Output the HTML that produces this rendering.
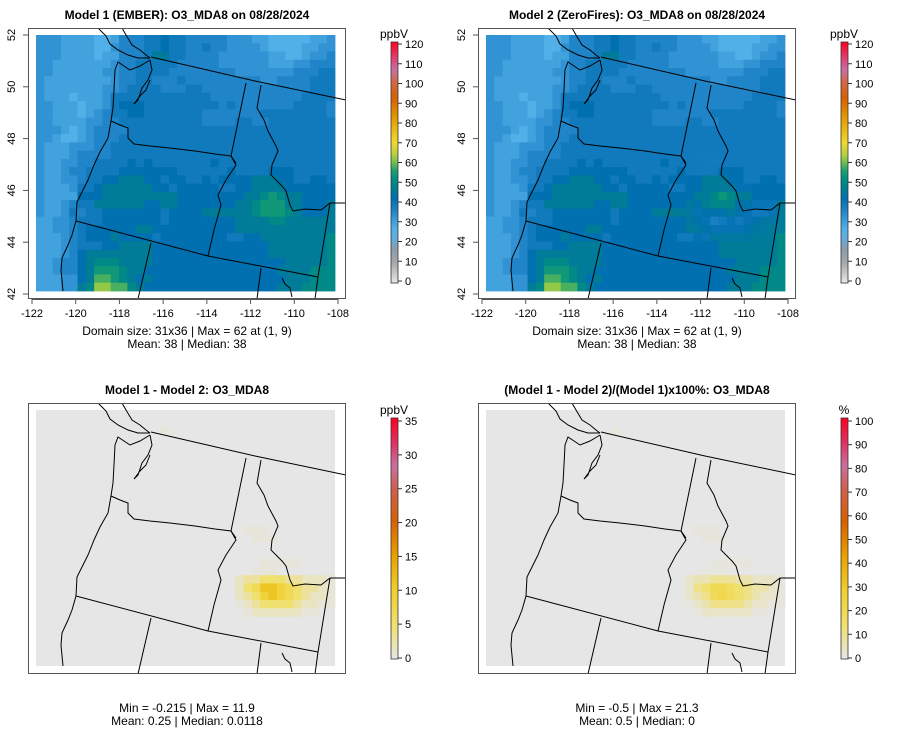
<!DOCTYPE html>
<html><head><meta charset="utf-8"><style>
html,body{margin:0;padding:0;background:#fff;}
svg{display:block;font-family:"Liberation Sans",sans-serif;}
</style></head><body>
<svg id="fig" width="900" height="752" viewBox="0 0 900 752" xmlns="http://www.w3.org/2000/svg">
<defs>
<linearGradient id="gO3" x1="0" y1="1" x2="0" y2="0"></linearGradient>
<linearGradient id="gDiff" x1="0" y1="1" x2="0" y2="0"></linearGradient>
<clipPath id="clipBox"><rect x="28" y="28" width="318" height="271"/></clipPath>
</defs>
</svg>
<script>
// ---- data ----
const lonTicks = [-122,-120,-118,-116,-114,-112,-110,-108];
const latTicks = [42,44,46,48,50,52];
const o3Ticks = [0,10,20,30,40,50,60,70,80,90,100,110,120];
const diffTicks = [0,5,10,15,20,25,30,35];
const pctTicks = [0,10,20,30,40,50,60,70,80,90,100];
const o3Codes = "abcdefghijkl";
const o3Levels = [24,27,30,33,36,39,42,46,50,54,58,62];
const m1Rows = [
"dddccccbbceeeffgffeeeeedddccbbbbbccd",
"dddccccbbdeeeffgffeefeeddddcbbbbccdd",
"dddccccbcceeefhhffeeeeddddddccbbcdde",
"ddcccccccdeefffffeeeeeddddddcccddeee",
"ddccccccddeeffffeeeeeeeedddddddeeeff",
"dccccccccdeeffeeefeeeeeeeeeddeeeefff",
"dcccccccddeffffeeeffeeeeeeeeeeeeefff",
"dcccbcccdffffffffffffeeeeeeeeeeeffff",
"ddcccbccdfgggfffffffffefeeeeeeeffffe",
"ddcccbcdeffggfffffffeeeeeeeffffffffe",
"ddccccddeeffffffffffeeeeffeeffffffff",
"dddcbcdeeeefffffffffffffffffffffffff",
"ddcbbcdeeeffffffffffffffffffffffffff",
"dcccdddeefffffffffffffffffffffffffff",
"dcccdeeeefffffffffffffffffffffffffff",
"dccddeeffffgfgfffffffgffffffffffffff",
"dccdeeffffgggggggffffffgffffgggfffff",
"dccddeffgghhhggfggffgfgggghhhggffggf",
"dcccdffghhhhhhggfgggggffgghhhhgggggg",
"dccccggghhhhhhhhhgggggggghhijihhgggg",
"dccdeffhhhhhhgghhggggggghhijjjhhgggh",
"dccdfeffgggggggfgggghhhhhhijjjihgggh",
"ccddefffgggggggfgggggggghhhhiihhhhhh",
"ccddefgggggghhgggggggggghhhhhhhhhhhh",
"cccdefggghggggfggggggggffgghhhhhhhhi",
"cccdefffgghhhhgggggggggggggghhhhhhhi",
"cccdeghhhhhhhhgggggggggggggghhhhhhhi",
"ccdeeghiiihhhhgggggggggggggggghhhhhi",
"ccdeeghjjjihhgggggggggggggggghhhhiii",
"cccddghkkjihghgggggggggggggggghhhiii",
"cccddhillkkihgggggggggggggggghhhiiii"
];
const diffLevels = [0,0.5,1.5,3,5,7,9,11,12];
const diffRows = {
 2:  "000000000000000100000000000000000000",
 14: "000000000000000000000000011100000000",
 15: "000000000000000000000000001110000000",
 18: "000000000000000000000000000111110000",
 19: "000000000000000000000000001110000000",
 20: "000000000000000000000000233444332221",
 21: "000000000000000000000000245776543321",
 22: "000000000000000000000000234676543221",
 23: "000000000000000000000000123444432211",
 24: "000000000000000000000000012222221100"
};
const o3Stops = [[0,"#e8e8e8"],[10,"#a8a8a8"],[17,"#8c9cac"],[22,"#64acdc"],[27,"#52b0e8"],[32,"#3898d8"],[37,"#1a80c4"],[42,"#0070b0"],[47,"#007f92"],[52,"#009080"],[56,"#20a070"],[60,"#70c050"],[64,"#b8d040"],[70,"#f0d830"],[78,"#e8b010"],[85,"#e08a00"],[92,"#d86000"],[100,"#d06848"],[106,"#c870a0"],[112,"#e04070"],[120,"#ff0020"]];
const diffStops = [[0,"#e6e6e6"],[0.14,"#f0e070"],[0.28,"#f0d030"],[0.43,"#e8a000"],[0.57,"#d86000"],[0.71,"#d06050"],[0.8,"#c870a0"],[0.9,"#e03060"],[1,"#ff0020"]];

// ---- helpers ----
const NS = "http://www.w3.org/2000/svg";
const svg = document.getElementById("fig");
function mk(tag, attrs, parent){const e=document.createElementNS(NS,tag);for(const k in attrs)e.setAttribute(k,attrs[k]);(parent||svg).appendChild(e);return e;}
function hex(c){return [parseInt(c.slice(1,3),16),parseInt(c.slice(3,5),16),parseInt(c.slice(5,7),16)];}
function interp(stops,v){
 if(v<=stops[0][0])return stops[0][1];
 for(let i=1;i<stops.length;i++){if(v<=stops[i][0]){const a=stops[i-1],b=stops[i];const t=(v-a[0])/(b[0]-a[0]);const ca=hex(a[1]),cb=hex(b[1]);return "rgb("+ca.map((x,j)=>Math.round(x+(cb[j]-x)*t)).join(",")+")";}}
 return stops[stops.length-1][1];
}
const NC=36, NR=31, MX0=36, MX1=335, MY0=35, MY1=291;
const cw=(MX1-MX0)/NC, ch=(MY1-MY0)/NR;
function colX(c){return MX0+c*cw;}
function rowY(r){return MY0+r*ch;}
function lonX(l){return 32+(l+122)*(338-32)/14;}
function latY(l){return 294-(l-42)*25.9;}
function m1Val(r,c){const s=m1Rows[r];const k=s[Math.min(c,s.length-1)];return o3Levels[Math.max(0,o3Codes.indexOf(k))];}
function diffVal(r,c){const s=diffRows[r];if(!s)return 0;return diffLevels[+s[c]];}

[["gO3",o3Stops,120],["gDiff",diffStops,1]].forEach(([id,st,mx])=>{const g=document.getElementById(id);st.forEach(s=>mk("stop",{offset:(s[0]/mx*100)+"%","stop-color":s[1]},g));});

const borders = [
"M98,28 L106,36 L110,44 L118,50 L128,55 L138,58 L150,58",
"M122,28 L126,35 L132,45 L140,50 L146,55 L150,58",
"M150,60 L152,70 L148,80 L142,88 L138,100 L134,104 L140,96 L146,90 L150,80",
"M150,60 L140,66 L130,70 L118,62 L115,70 L114,90 L113,108 L111,121 L108,138 L100,152 L94,165 L88,180 L82,192 L77,202 L76,221 L72,235 L68,245 L62,258 L61,270 L63,291",
"M111,121 L120,125 L128,128 L128,138 L134,144 L150,146 L170,148 L195,151 L215,154 L231,156 L236,163",
"M246,83 L231,156 L236,165 L226,180 L218,195 L221,205 L214,230 L208,256",
"M151,57 L255,81 L346,100",
"M76,221 L208,256 L318,277",
"M151,243 L138,299",
"M261,85 L257,108 L264,120 L268,131 L276,146 L278,151 L272,165 L271,175 L282,186 L286,191 L290,205 L293,211 L305,209 L321,210 L330,203 L346,203",
"M330,203 L318,277 L315,299",
"M261,268 L257,299",
"M282,278 L285,284 L290,288 L292,297"
];

function panel(dx,dy,opts){
 const g=mk("g",{transform:`translate(${dx},${dy})`});
 
 
 const t=mk("text",{x:187,y:19,"text-anchor":"middle","font-size":"12","font-weight":"bold",fill:"#000"},g);
 t.textContent=opts.title;
 
 
 const bg=mk("rect",{x:MX0,y:MY0,width:MX1-MX0,height:MY1-MY0,fill:opts.bg||"none"},g);
 
 
 const cells=mk("g",{},g);
 
 
 for(let r=0;r<NR;r++)for(let c=0;c<NC;c++){
  const v=opts.val(r,c);
  if(v===null)continue;
  const rc=mk("rect",{x:colX(c).toFixed(2),y:rowY(r).toFixed(2),width:(cw+0.4).toFixed(2),height:(ch+0.4).toFixed(2),fill:opts.color(v)},cells);
  
  
 }
 const bl=mk("g",{"clip-path":"url(#clipBox)",fill:"none",stroke:"#000","stroke-width":"1"},g);
 
 
 borders.forEach(d=>mk("path",{d:d},bl));
 const box=mk("rect",{x:28.5,y:28.5,width:317,height:270,fill:"none",stroke:"#555","stroke-width":"1"},g);
 
 
 if(opts.axes){
  const xa=mk("g",{},g);
  
  
  mk("line",{x1:lonX(lonTicks[0]),x2:lonX(lonTicks[lonTicks.length-1]),y1:299.5,y2:299.5,stroke:"#555"},xa);
  lonTicks.forEach(l=>{mk("line",{x1:lonX(l),x2:lonX(l),y1:299,y2:304,stroke:"#555"},xa);
   const tx=mk("text",{x:lonX(l),y:317,"text-anchor":"middle","font-size":"11"},xa);tx.textContent=l;
   
   });
  const ya=mk("g",{},g);
  
  
  latTicks.forEach(l=>{mk("line",{x1:23,x2:28,y1:latY(l),y2:latY(l),stroke:"#555"},ya);
   const tx=mk("text",{x:0,y:0,"text-anchor":"middle","font-size":"11",transform:`translate(15,${latY(l)}) rotate(-90)`},ya);tx.textContent=l;
   
   });
 }
 opts.stats.forEach((s,i)=>{const tx=mk("text",{x:187,y:opts.statsY+i*13,"text-anchor":"middle","font-size":"12","xml:space":"preserve"},g);tx.textContent=s;
  
  });
 const cb=mk("g",{},g);
 
 
 mk("rect",{x:391,y:opts.cbTop,width:7,height:opts.cbBot-opts.cbTop,fill:`url(#${opts.grad})`,stroke:"#333","stroke-width":"0.8"},cb);
 const ut=mk("text",{x:394,y:opts.cbTop-4,"text-anchor":"middle","font-size":"12"},cb);ut.textContent=opts.unit;
 
 
 const mx=opts.ticks[opts.ticks.length-1];
 opts.ticks.forEach(v=>{const y=opts.t0-(v/mx)*(opts.t0-opts.t1);
  mk("line",{x1:398,x2:402,y1:y,y2:y,stroke:"#333"},cb);
  const tx=mk("text",{x:405,y:y+4,"font-size":"11"},cb);tx.textContent=v;
  
  });
}

const o3Color=v=>interp(o3Stops,v);
panel(0,0,{name:"panel-model1",title:"Model 1 (EMBER): O3_MDA8 on 08/28/2024",val:(r,c)=>m1Val(r,c),color:o3Color,axes:true,
 stats:["Domain size: 31x36 | Max = 62 at (1, 9)","Mean: 38 |  Median: 38"],statsY:335,grad:"gO3",unit:"ppbV",cbTop:42,cbBot:283,t0:281,t1:44,ticks:o3Ticks});
panel(450,0,{name:"panel-model2",title:"Model 2 (ZeroFires): O3_MDA8 on 08/28/2024",val:(r,c)=>m1Val(r,c)-diffVal(r,c),color:o3Color,axes:true,
 stats:["Domain size: 31x36 | Max = 62 at (1, 9)","Mean: 38 |  Median: 38"],statsY:335,grad:"gO3",unit:"ppbV",cbTop:42,cbBot:283,t0:281,t1:44,ticks:o3Ticks});
panel(0,375,{name:"panel-difference",title:"Model 1 - Model 2: O3_MDA8",bg:"#e6e6e6",val:(r,c)=>{const d=diffVal(r,c);return d>0?d:null;},color:v=>interp(diffStops,v/35),axes:false,
 stats:["Min = -0.215 | Max = 11.9","Mean: 0.25 |  Median: 0.0118"],statsY:337,grad:"gDiff",unit:"ppbV",cbTop:43,cbBot:284,t0:283,t1:46,ticks:diffTicks});
panel(450,375,{name:"panel-percent-difference",title:"(Model 1 - Model 2)/(Model 1)x100%: O3_MDA8",bg:"#e6e6e6",val:(r,c)=>{const d=diffVal(r,c);return d>0?d/m1Val(r,c)*100:null;},color:v=>interp(diffStops,v/100),axes:false,
 stats:["Min = -0.5 | Max = 21.3","Mean: 0.5 |  Median: 0"],statsY:337,grad:"gDiff",unit:"%",cbTop:43,cbBot:284,t0:283,t1:46,ticks:pctTicks});
</script>
</body></html>
